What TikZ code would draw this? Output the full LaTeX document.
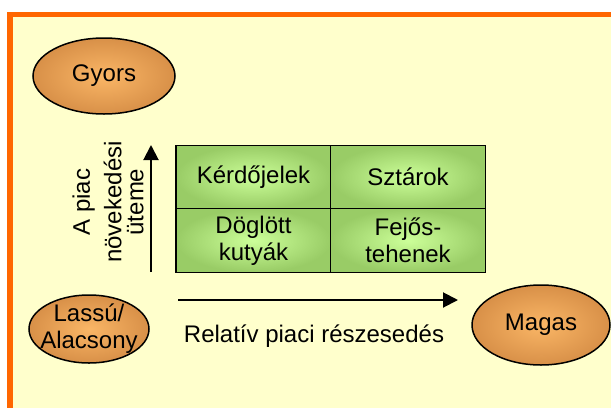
\documentclass[tikz,border=0pt]{standalone}
\usepackage{fontspec}
\setmainfont{Liberation Sans}
\usetikzlibrary{arrows.meta}
\usetikzlibrary{shadings}
\usetikzlibrary{shapes.geometric}

\definecolor{bgyellow}{HTML}{FFFFCC}
\definecolor{frameorange}{HTML}{FF6600}
\definecolor{ovalin}{HTML}{FAB666}
\definecolor{ovalout}{HTML}{D89048}
\definecolor{cellin}{HTML}{CCFF99}
\definecolor{cellout}{HTML}{99CC66}

\tikzset{
    oval/.style={ellipse, draw=black, line width=1.5pt, inner color=ovalin, outer color=ovalout, align=center, inner sep=0pt},
    cell/.style={rectangle, draw=black, line width=1.2pt, inner color=cellin, outer color=cellout, minimum width=155pt, minimum height=63.5pt, inner sep=0pt, outer sep=0pt, align=center},
    axisarrow/.style={line width=2pt, -{Triangle[length=15pt, width=15pt]}},
}

\begin{document}
\begin{tikzpicture}[x=1pt, y=-1pt, font=\fontsize{24}{27}\selectfont]
    \useasboundingbox (0,0) rectangle (611,408);
    % keret
    \fill [white] (0,0) rectangle (611,408);
    \fill [frameorange] (7,12) rectangle (611,408);
    \fill [bgyellow] (13,17) rectangle (611,408);

    \node [oval, minimum width=142pt, minimum height=76pt] (gyors) at (104,76) {Gyors};
    \node [oval, minimum width=120pt, minimum height=68pt, inner xsep=-10pt, inner ysep=-5pt] (lassu) at (89,329) {Lassú/\\Alacsony};
    \node [oval, minimum width=138pt, minimum height=80pt] (magas) at (541,325) {Magas};

    % a négy mező
    \node [cell] (kerdo) at (253.5,177) {Kérdőjelek};
    \node [cell] (sztar) at (408,177) {Sztárok};
    \node [cell] (kutya) at (253.5,240.5) {Döglött\\kutyák};
    \node [cell] (fejos) at (408,240.5) {Fejős-\\tehenek};

    \coordinate (ybot) at (151,272);
    \coordinate (ytop) at (151,145);
    \draw [axisarrow] (ybot) -- (ytop);
    \node [rotate=90, align=center, font=\fontsize{24}{22}\selectfont] (ylabel) at (108,202) {A piac\\[8pt]növekedési\\üteme};

    \coordinate (xleft) at (178,300);
    \coordinate (xright) at (458,300);
    \draw [axisarrow] (xleft) -- (xright);
    \node (xlabel) at (314,336) {Relatív piaci részesedés};
\end{tikzpicture}
\end{document}
